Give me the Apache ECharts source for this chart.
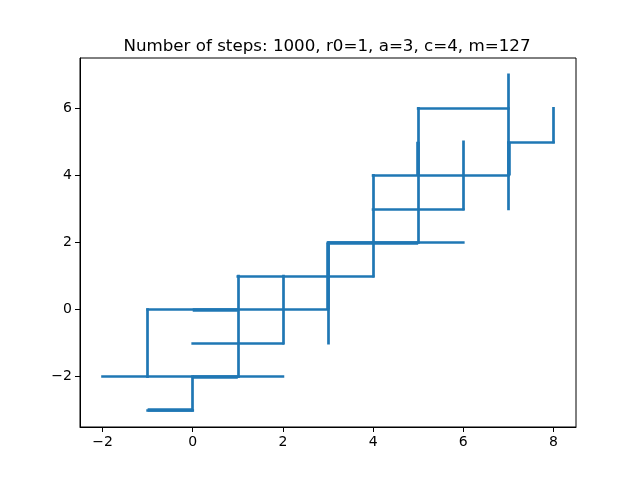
<!DOCTYPE html>
<html lang="en">
<head>
    <meta charset="UTF-8">
    <title>Random walk</title>
    <script src="https://cdn.jsdelivr.net/npm/echarts@6.0.0/dist/echarts.min.js"></script>
    <style>
        html, body { margin: 0; padding: 0; background: #fff; }
        #chart { width: 640px; height: 480px; }
    </style>
</head>
<body>
    <div id="chart"></div>
    <script>
        // walk segments: horizontal [y, x0, x1], vertical [x, y0, y1]
        var hLines = [
            [-3, -1, 0], [-2, -2, 2], [-1, 0, 2], [0, -1, 3], [1, 1, 4],
            [2, 3, 6], [3, 4, 6], [4, 4, 7], [5, 7, 8], [6, 5, 7]
        ];
        var vLines = [
            [-1, -2, 0], [0, -3, -2], [1, -2, 1], [2, -1, 1], [3, -1, 2],
            [4, 1, 4], [5, 2, 6], [6, 3, 5], [7, 3, 7], [8, 5, 6]
        ];
        // parts walked over many times (they look heavier)
        var hHeavy = [[-3, -1, 0], [-2, 0, 1], [0, 0, 1], [2, 3, 5]];
        var vHeavy = [[3, 0, 2], [5, 4, 5], [7, 4, 5]];

        var xTicks = [-2, 0, 2, 4, 6, 8];
        var yTicks = [-2, 0, 2, 4, 6];
        var titleText = 'Number of steps: 1000, r0=1, a=3, c=4, m=127';

        function toCoords(h, v) {
            var out = [];
            h.forEach(function (s) { out.push({ coords: [[s[1], s[0]], [s[2], s[0]]] }); });
            v.forEach(function (s) { out.push({ coords: [[s[0], s[1]], [s[0], s[2]]] }); });
            return out;
        }

        function minus(v) { return String(v).replace('-', '\u2212'); }

        var font = 'DejaVu Sans';
        var chart = echarts.init(document.getElementById('chart'));

        function axis(min, max, ticks) {
            return {
                type: 'value',
                min: min,
                max: max,
                splitLine: { show: false },
                axisLine: { show: true, onZero: false, lineStyle: { color: '#000', width: 1 } },
                axisTick: { show: true, customValues: ticks, length: 5, lineStyle: { color: '#000', width: 1 } },
                axisLabel: {
                    customValues: ticks, formatter: minus, color: '#000',
                    fontFamily: font, fontSize: 14, margin: 8
                }
            };
        }

        var option = {
            animation: false,
            title: {
                text: titleText,
                left: 322,
                top: 33,
                textAlign: 'center',
                textStyle: { fontFamily: font, fontSize: 16.7, fontWeight: 'normal', color: '#000' }
            },
            grid: {
                left: 80, right: 64, top: 58, bottom: 53,
                show: true, borderColor: '#000', borderWidth: 1
            },
            xAxis: axis(-2.5, 8.5, xTicks),
            yAxis: axis(-3.5, 7.5, yTicks),
            series: [
                {
                    type: 'lines',
                    coordinateSystem: 'cartesian2d',
                    silent: true,
                    lineStyle: { color: '#1f77b4', width: 2.7, opacity: 1, cap: 'square' },
                    data: toCoords(hLines, vLines)
                },
                {
                    type: 'lines',
                    coordinateSystem: 'cartesian2d',
                    silent: true,
                    lineStyle: { color: '#1f77b4', width: 3.6, opacity: 1, cap: 'butt' },
                    data: toCoords(hHeavy, vHeavy)
                }
            ]
        };

        chart.setOption(option);
    </script>
</body>
</html>
